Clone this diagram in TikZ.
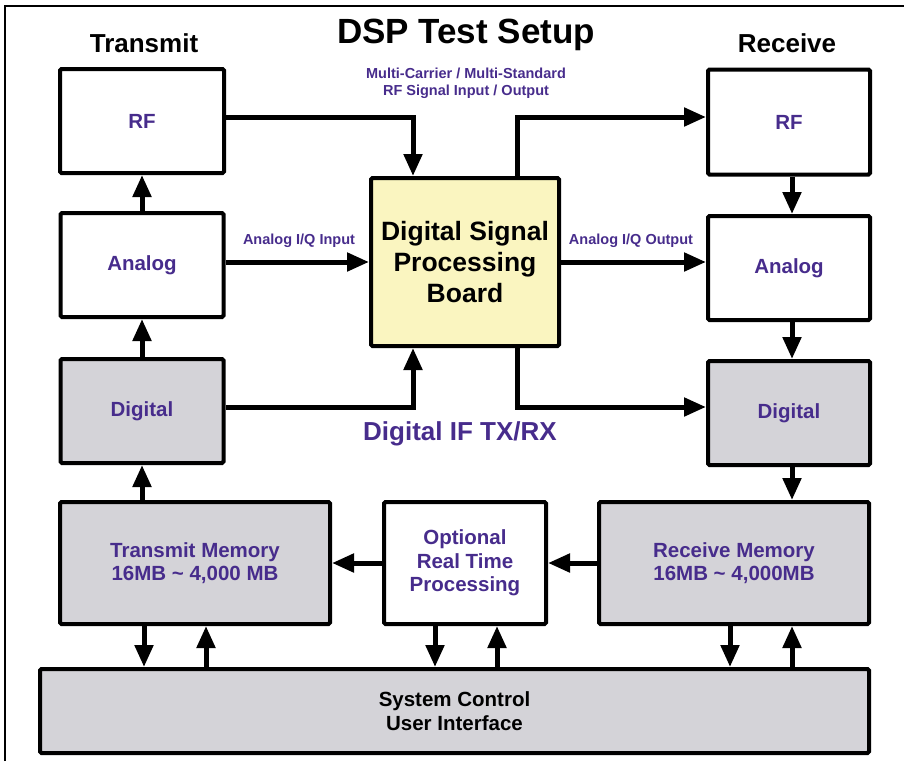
\documentclass[tikz,border=0pt]{standalone}
\usepackage{fontspec}
\setmainfont{Liberation Sans}
\usetikzlibrary{arrows.meta,calc}
\definecolor{txtpurple}{HTML}{472C8C}
\definecolor{boxgray}{HTML}{D4D3D8}
\definecolor{boxyellow}{HTML}{FAF5C0}
\tikzset{
  blk/.style={draw=black, line width=4pt, rounded corners=1.5pt, fill=white, align=center,
     font=\fontsize{20.5}{23.5}\selectfont\bfseries, text=txtpurple, inner sep=0pt},
  grayblk/.style={blk, fill=boxgray},
  arr/.style={line width=5pt, -{Triangle[width=18pt,length=22pt]}},
  hdr/.style={font=\fontsize{26}{30}\selectfont\bfseries, text=black},
  smalllbl/.style={font=\fontsize{14.5}{17}\selectfont\bfseries, text=txtpurple, align=center},
}
\begin{document}
\begin{tikzpicture}[x=1pt,y=-1pt]
\useasboundingbox (0,0) rectangle (904,761);
\draw[line width=1.5pt] (5,761) -- (5,6) -- (904,6);

\node[hdr, font=\fontsize{35}{40}\selectfont\bfseries] (title) at (466,35) {DSP Test Setup};
\node[hdr] (txh) at (144,43) {Transmit};
\node[hdr] (rxh) at (787,43) {Receive};

\node[blk, minimum width=164pt, minimum height=104pt] (txRF) at (142,121) {RF};
\node[blk, minimum width=163pt, minimum height=104pt] (txAn) at (142,265) {Analog};
\node[grayblk, minimum width=163pt, minimum height=104pt] (txDig) at (142,411) {Digital};

\node[blk, minimum width=162pt, minimum height=105pt] (rxRF) at (789,122) {RF};
\node[blk, minimum width=162pt, minimum height=104pt] (rxAn) at (789,268) {Analog};
\node[grayblk, minimum width=162pt, minimum height=104pt] (rxDig) at (789,413) {Digital};

\node[blk, fill=boxyellow, text=black, font=\fontsize{26.5}{31}\selectfont\bfseries,
      minimum width=188pt, minimum height=168pt] (dsp) at (465,262) {Digital Signal\\Processing\\Board};

\node[grayblk, minimum width=270pt, minimum height=122pt] (txMem) at (195,563) {Transmit Memory\\16MB \textasciitilde{} 4,000 MB};
\node[blk, minimum width=162pt, minimum height=122pt] (opt) at (465,563) {Optional\\Real Time\\Processing};
\node[grayblk, minimum width=270pt, minimum height=122pt] (rxMem) at (734,563) {Receive Memory\\16MB \textasciitilde{} 4,000MB};

\node[grayblk, text=black, minimum width=829pt, minimum height=84pt] (sys) at (454.5,711) {System Control\\User Interface};

\node[smalllbl] (mc) at (466,83) {Multi-Carrier / Multi-Standard\\RF Signal Input / Output};
\node[smalllbl] (aiqi) at (299,241) {Analog I/Q Input};
\node[smalllbl] (aiqo) at (631,241) {Analog I/Q Output};
\node[font=\fontsize{26}{30}\selectfont\bfseries, text=txtpurple] (dif) at (460,434) {Digital IF TX/RX};

% transmit column
\draw[arr] (txAn.north) -- (txRF.south);
\draw[arr] (txDig.north) -- (txAn.south);
\draw[arr] (txMem.north -| txDig.south) -- (txDig.south);

% receive column
\draw[arr] ([xshift=3pt]rxRF.south) -- ([xshift=3pt]rxAn.north);
\draw[arr] ([xshift=3pt]rxAn.south) -- ([xshift=3pt]rxDig.north);
\draw[arr] ([xshift=3pt]rxDig.south) -- ([xshift=3pt]rxDig.south |- rxMem.north);

% DSP connections
\draw[arr] ([yshift=4pt]txRF.east) -| ([xshift=-52pt]dsp.north);
\draw[arr] ([xshift=52pt]dsp.north) |- ([yshift=5pt]rxRF.west);
\draw[arr] (txAn.east |- dsp.west) -- (dsp.west);
\draw[arr] (dsp.east) -- (dsp.east -| rxAn.west);
\draw[arr] ([yshift=4pt]txDig.east) -| ([xshift=-52pt]dsp.south);
\draw[arr] ([xshift=52pt]dsp.south) |- ([yshift=6pt]rxDig.west);

% memory row
\draw[arr] (opt.west) -- (txMem.east);
\draw[arr] (rxMem.west) -- (opt.east);

% to / from system control
\draw[arr] ([xshift=-51pt]txMem.south) -- ([xshift=-51pt]txMem.south |- sys.north);
\draw[arr] ([xshift=11pt]txMem.south |- sys.north) -- ([xshift=11pt]txMem.south);
\draw[arr] ([xshift=-30pt]opt.south) -- ([xshift=-30pt]opt.south |- sys.north);
\draw[arr] ([xshift=32pt]opt.south |- sys.north) -- ([xshift=32pt]opt.south);
\draw[arr] ([xshift=-4pt]rxMem.south) -- ([xshift=-4pt]rxMem.south |- sys.north);
\draw[arr] ([xshift=58pt]rxMem.south |- sys.north) -- ([xshift=58pt]rxMem.south);
\end{tikzpicture}
\end{document}
